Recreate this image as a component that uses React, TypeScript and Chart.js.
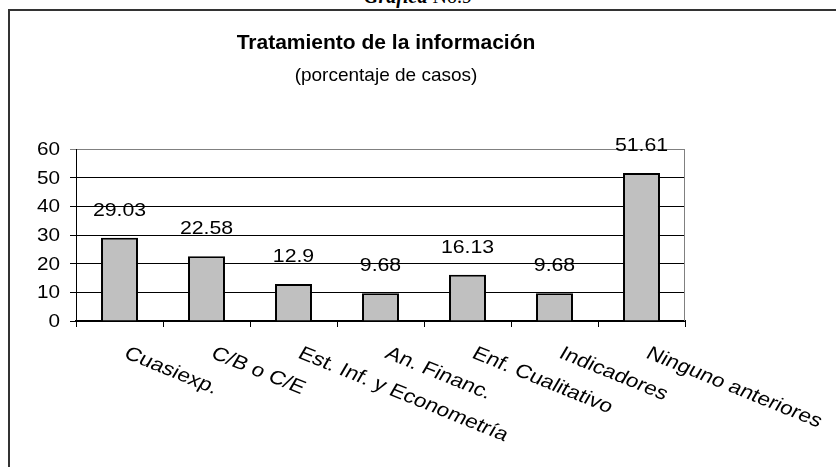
import React, { useEffect, useRef } from "react";
import { Chart, registerables } from "chart.js";
Chart.register(...registerables);

const categories = [
  "Cuasiexp.",
  "C/B o C/E",
  "Est. Inf. y Econometría",
  "An. Financ.",
  "Enf. Cualitativo",
  "Indicadores",
  "Ninguno anteriores",
];
const values = [29.03, 22.58, 12.9, 9.68, 16.13, 9.68, 51.61];
const valueLabels = ["29.03", "22.58", "12.9", "9.68", "16.13", "9.68", "51.61"];
const yMin = 0;
const yMax = 60;
const yStep = 10;
const titleText = "Tratamiento de la información";
const subtitleText = "(porcentaje de casos)";
const captionItalic = "Gráfica";
const captionRest = " No.9";

const FONT = '"Liberation Sans", Arial, sans-serif';
const SX = 1.15;

function stretchedText(
  ctx: CanvasRenderingContext2D,
  text: string,
  x: number,
  y: number,
  sx: number,
  angleDeg = 0
) {
  ctx.save();
  ctx.translate(x, y);
  ctx.scale(sx, 1);
  if (angleDeg) ctx.rotate((angleDeg * Math.PI) / 180);
  ctx.fillText(text, 0, 0);
  ctx.restore();
}

const textPlugin = {
  id: "customText",
  afterDatasetsDraw(chart: any) {
    const ctx = chart.ctx as CanvasRenderingContext2D;
    const xs = chart.scales.x;
    const ys = chart.scales.y;
    const area = chart.chartArea;
    ctx.save();
    ctx.fillStyle = "#000";
    // title + subtitle
    ctx.textAlign = "center";
    ctx.textBaseline = "middle";
    ctx.font = `bold 21px ${FONT}`;
    ctx.fillText(titleText, 386, 43);
    ctx.font = `19px ${FONT}`;
    ctx.fillText(subtitleText, 386, 76);
    // value labels
    ctx.font = `18.5px ${FONT}`;
    const meta = chart.getDatasetMeta(0);
    meta.data.forEach((bar: any, i: number) => {
      stretchedText(ctx, valueLabels[i], bar.x, bar.y - 27, SX);
    });
    // y tick labels
    ctx.textAlign = "right";
    ctx.font = `18px ${FONT}`;
    ys.ticks.forEach((t: any) => {
      stretchedText(ctx, String(t.value), area.left - 16, ys.getPixelForValue(t.value) + 1, SX);
    });
    // rotated category labels
    ctx.textAlign = "left";
    ctx.textBaseline = "top";
    ctx.font = `19px ${FONT}`;
    categories.forEach((c, i) => {
      const px = xs.getPixelForValue(i) + 11;
      const py = xs.top + 23;
      stretchedText(ctx, c, px, py, 1.2, 26);
    });
    // right border of plot area
    ctx.strokeStyle = "#808080";
    ctx.lineWidth = 1;
    ctx.beginPath();
    ctx.moveTo(area.right - 0.5, area.top);
    ctx.lineTo(area.right - 0.5, area.bottom);
    ctx.stroke();
    ctx.restore();
  },
};

function ChartView() {
  const ref = useRef<HTMLCanvasElement | null>(null);
  useEffect(() => {
    if (!ref.current) return;
    const chart = new Chart(ref.current, {
      type: "bar",
      data: {
        labels: categories,
        datasets: [
          {
            data: values,
            backgroundColor: "#c0c0c0",
            borderColor: "#000",
            borderWidth: 2,
            categoryPercentage: 1,
            barPercentage: 0.425,
          },
        ],
      },
      options: {
        animation: false,
        responsive: false,
        maintainAspectRatio: false,
        layout: { padding: { top: 149, right: 151, left: 0, bottom: 0 } },
        plugins: {
          legend: { display: false },
          tooltip: { enabled: false },
          title: { display: false },
        },
        scales: {
          x: {
            type: "category",
            afterFit: (s: any) => {
              s.height = 146;
            },
            grid: {
              display: true,
              drawOnChartArea: false,
              drawTicks: true,
              tickLength: 6,
              color: "#000",
              offset: true,
            },
            border: { display: true, color: "#000", width: 2 },
            ticks: { display: false },
          },
          y: {
            min: yMin,
            max: yMax,
            afterFit: (s: any) => {
              s.width = 76;
            },
            ticks: {
              display: false,
              stepSize: yStep,
            },
            grid: {
              color: (c: any) => (c.tick && c.tick.value === yMax ? "#808080" : "#000"),
              lineWidth: 1,
              drawTicks: true,
              tickLength: 6,
            },
            border: { display: true, color: "#000", width: 1 },
          },
        },
      },
      plugins: [textPlugin],
    });
    return () => chart.destroy();
  }, []);
  return (
    <canvas
      ref={ref}
      width={836}
      height={467}
      style={{ position: "absolute", left: 0, top: 0, width: 836, height: 467 }}
    />
  );
}

export default function App() {
  return (
    <div
      style={{
        position: "fixed",
        left: 0,
        top: 0,
        width: 836,
        height: 467,
        overflow: "hidden",
        background: "#fff",
      }}
    >
      <div
        style={{
          position: "absolute",
          left: 0,
          width: 836,
          top: -15,
          textAlign: "center",
          fontFamily: '"Liberation Serif", "Times New Roman", serif',
          fontSize: 20,
          lineHeight: "23px",
          color: "#000",
        }}
      >
        <b>
          <i>{captionItalic}</i>
        </b>
        {captionRest}
      </div>
      <div
        style={{
          position: "absolute",
          left: 8,
          top: 9,
          width: 1000,
          height: 1000,
          border: "2px solid #333",
          boxSizing: "border-box",
        }}
      />
      <ChartView />
    </div>
  );
}
